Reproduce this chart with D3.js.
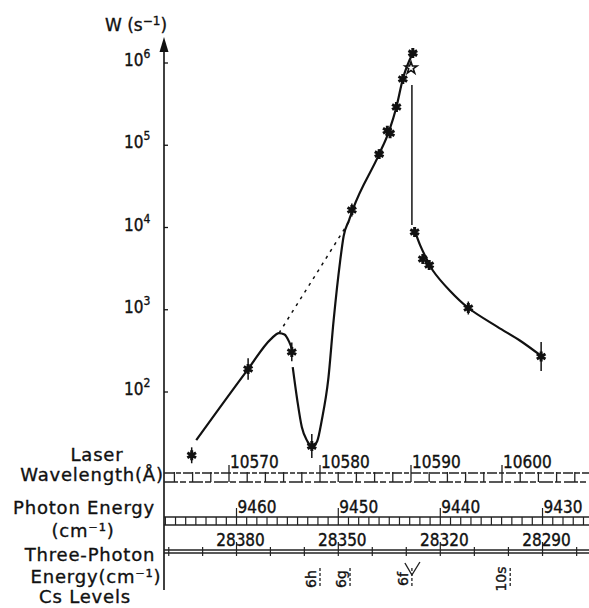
<!DOCTYPE html>
<html lang="en">
<head>
<meta charset="utf-8">
<title>W vs laser wavelength</title>
<script src="https://cdn.jsdelivr.net/npm/d3@7"></script>
<style>
  body { margin: 0; background: #fff; }
  svg { display: block; }
  text { fill: #111; stroke: #111; stroke-width: 0.35px; font-family: "DejaVu Sans", sans-serif; }
  .num { font-family: "DejaVu Sans Condensed", "DejaVu Sans", sans-serif; font-stretch: condensed; font-size: 17px; }
  .lab { font-size: 18px; letter-spacing: 0.8px; }
</style>
</head>
<body>
<script>
// measured rates: laser wavelength (Å), W (s^-1), error bar factor, open marker?
var pointWl   = [10565.9, 10572.1, 10576.9, 10579.1, 10583.5, 10586.5, 10587.4, 10587.7, 10588.4, 10589.1, 10590.0, 10590.2, 10590.4, 10591.3, 10592.0, 10596.3, 10604.3];
var pointW    = [17, 190, 307, 22, 16300, 78000, 150000, 140000, 292000, 638000, 870000, 1320000, 8800, 4140, 3500, 1050, 270];
var pointErr  = [1.25, 1.35, 1.3, 1.4, 1.2, 1.15, 1.12, 1.12, 1.12, 1.1, 1.1, 1.1, 1.15, 1.15, 1.15, 1.2, 1.5];
var pointOpen = [0, 0, 0, 0, 0, 0, 0, 0, 0, 0, 1, 0, 0, 0, 0, 0, 0];

// hand-drawn curves through the data
var curveAWl = [10566.4, 10572.1, 10574.6, 10575.5, 10576.1, 10576.6, 10576.9];
var curveAW  = [26, 190, 440, 521, 500, 410, 340];
var curveBWl = [10577.0, 10577.5, 10578.0, 10578.6, 10579.1, 10579.7, 10580.2, 10580.9, 10581.5, 10582.2, 10582.6, 10583.2, 10583.6, 10586.5, 10587.6, 10588.4, 10589.1, 10590.2];
var curveBW  = [201, 80, 37.5, 25.4, 21.4, 25.4, 45.7, 140, 750, 3800, 7890, 12300, 16500, 78000, 150000, 292000, 638000, 1320000];
var dropWl   = [10590.1, 10590.1];
var dropW    = [541000, 10700];
var curveDWl = [10590.5, 10591.0, 10591.6, 10592.4, 10594.3, 10596.3, 10599.5, 10602.0, 10604.2];
var curveDW  = [8600, 6100, 4400, 3000, 1690, 1050, 620, 420, 280];
var dashWl   = [10575.5, 10583.3];
var dashW    = [521, 12300];

// axes
var yDecades    = [2, 3, 4, 5, 6];
var wlMajor     = [10570, 10580, 10590, 10600];
var photonMajor = [9460, 9450, 9440, 9430];
var threeMajor  = [28380, 28350, 28320, 28290];
var csNames     = ["6h", "6g", "6f", "10s"];
var csWl        = [10580.0, 10583.3, 10590.1, 10600.9];

var width = 589, height = 608, axisX = 164, rightX = 589;

var svg = d3.select("body").append("svg").attr("width", width).attr("height", height);

var x = d3.scaleLinear().domain([10570, 10600]).range([229, 502]);
var y = d3.scaleLog().domain([100, 1e6]).range([392, 63]);
var xE = function (e) { return x(1e8 / e); };

function pairs(a, b) { return a.map(function (d, i) { return [d, b[i]]; }); }

var line = d3.line().x(function (d) { return x(d[0]); }).y(function (d) { return y(d[1]); }).curve(d3.curveMonotoneX);
var smooth = d3.line().x(function (d) { return x(d[0]); }).y(function (d) { return y(d[1]); }).curve(d3.curveCatmullRom.alpha(0.5));
var straight = d3.line().x(function (d) { return x(d[0]); }).y(function (d) { return y(d[1]); });

// y axis
svg.append("line").attr("x1", axisX).attr("x2", axisX).attr("y1", 48).attr("y2", 590)
  .attr("stroke", "#111").attr("stroke-width", 1.6);
svg.append("path").attr("d", "M" + axisX + ",37L" + (axisX - 4.5) + ",52L" + (axisX + 4.5) + ",52Z").attr("fill", "#111");

yDecades.forEach(function (e) {
  var yy = y(Math.pow(10, e));
  svg.append("line").attr("x1", axisX).attr("x2", axisX + 4).attr("y1", yy).attr("y2", yy)
    .attr("stroke", "#111").attr("stroke-width", 1.3);
  var t = svg.append("text").attr("class", "num").attr("x", 124).attr("y", yy + 3);
  t.append("tspan").text("10");
  t.append("tspan").attr("dy", -8).attr("font-size", 12).text(e);
});

var ttl = svg.append("text").attr("x", 105).attr("y", 31).attr("font-size", 17);
ttl.append("tspan").text("W (s");
ttl.append("tspan").attr("dy", -6).attr("font-size", 12).text("−1");
ttl.append("tspan").attr("dy", 6).text(")");

// curves
[pairs(curveAWl, curveAW), pairs(curveBWl, curveBW)].forEach(function (c) {
  svg.append("path").attr("d", line(c)).attr("fill", "none").attr("stroke", "#111").attr("stroke-width", 2.2);
});
svg.append("path").attr("d", smooth(pairs(curveDWl, curveDW))).attr("fill", "none").attr("stroke", "#111").attr("stroke-width", 2.2);
svg.append("path").attr("d", straight(pairs(dropWl, dropW))).attr("fill", "none").attr("stroke", "#222").attr("stroke-width", 1.6);
svg.append("path").attr("d", straight(pairs(dashWl, dashW))).attr("fill", "none").attr("stroke", "#111")
  .attr("stroke-width", 1.5).attr("stroke-dasharray", "3,5");

// points with error bars
var pts = pointWl.map(function (d, i) { return { wl: d, w: pointW[i], e: pointErr[i], open: pointOpen[i] }; });
svg.selectAll(".err").data(pts).enter().append("line")
  .attr("x1", function (d) { return x(d.wl); }).attr("x2", function (d) { return x(d.wl); })
  .attr("y1", function (d) { return y(d.w * d.e); }).attr("y2", function (d) { return y(d.w / d.e); })
  .attr("stroke", "#111").attr("stroke-width", 1.5);
var star = d3.symbol().type(d3.symbolAsterisk).size(70);
var openStar = d3.symbol().type(d3.symbolStar).size(45);
svg.selectAll(".pt").data(pts).enter().append("path")
  .attr("transform", function (d) { return "translate(" + x(d.wl) + "," + y(d.w) + ")"; })
  .attr("d", function (d) { return d.open ? openStar() : star(); })
  .attr("fill", function (d) { return d.open ? "#fff" : "#111"; })
  .attr("stroke", "#111").attr("stroke-width", function (d) { return d.open ? 1.6 : 3; });

// laser wavelength axis (double broken line)
var wlY1 = 473, wlY2 = 482;
svg.append("line").attr("x1", axisX).attr("x2", rightX).attr("y1", wlY1).attr("y2", wlY1)
  .attr("stroke", "#222").attr("stroke-width", 1.5).attr("stroke-dasharray", "10,2,5,2");
svg.append("line").attr("x1", axisX).attr("x2", rightX).attr("y1", wlY2).attr("y2", wlY2)
  .attr("stroke", "#222").attr("stroke-width", 1.5).attr("stroke-dasharray", "14,2,6,3");
d3.range(10564, 10610, 2).forEach(function (w) {
  var major = w % 10 === 0;
  svg.append("line").attr("x1", x(w)).attr("x2", x(w)).attr("y1", major ? 465 : wlY1 - 1).attr("y2", wlY2)
    .attr("stroke", "#222").attr("stroke-width", 1.3);
});
wlMajor.forEach(function (w) {
  svg.append("text").attr("class", "num").attr("x", x(w) + 1).attr("y", 468).text(w);
});

// photon energy axis (boxes)
var peY1 = 517, peY2 = 525;
[peY1, peY2].forEach(function (yy) {
  svg.append("line").attr("x1", axisX).attr("x2", rightX).attr("y1", yy).attr("y2", yy)
    .attr("stroke", "#222").attr("stroke-width", 1.5);
});
d3.range(9426, 9468, 1).forEach(function (e) {
  var major = e % 10 === 0;
  svg.append("line").attr("x1", xE(e)).attr("x2", xE(e)).attr("y1", major ? 508 : peY1).attr("y2", peY2)
    .attr("stroke", "#222").attr("stroke-width", 1.2);
});
photonMajor.forEach(function (e) {
  svg.append("text").attr("class", "num").attr("x", xE(e) + 1).attr("y", 513).text(e);
});

// three-photon energy axis
var tpY1 = 550, tpY2 = 553;
[tpY1, tpY2].forEach(function (yy) {
  svg.append("line").attr("x1", axisX).attr("x2", rightX).attr("y1", yy).attr("y2", yy)
    .attr("stroke", "#222").attr("stroke-width", 1.3);
});
d3.range(28280, 28410, 10).forEach(function (e) {
  var major = e % 30 === 0;
  svg.append("line").attr("x1", xE(e / 3)).attr("x2", xE(e / 3)).attr("y1", major ? 542 : 547).attr("y2", 556)
    .attr("stroke", "#222").attr("stroke-width", 1.2);
});
threeMajor.forEach(function (e) {
  svg.append("text").attr("class", "num").attr("x", xE(e / 3) + 4).attr("y", 546)
    .attr("text-anchor", "middle").text(e);
});

// Cs levels
csNames.forEach(function (n, i) {
  var cx = x(csWl[i]);
  svg.append("line").attr("x1", cx).attr("x2", cx).attr("y1", 568).attr("y2", 588)
    .attr("stroke", "#222").attr("stroke-width", 1.3).attr("stroke-dasharray", "3,2");
  svg.append("text").attr("font-size", 14).attr("text-anchor", "middle")
    .attr("transform", "translate(" + (cx - 4) + ",579) rotate(-90)").text(n);
  if (n === "6f") {
    svg.append("path").attr("d", "M" + (cx - 7) + ",563L" + cx + ",575L" + (cx + 8) + ",562")
      .attr("fill", "none").attr("stroke", "#222").attr("stroke-width", 1.4);
  }
});

// left-hand labels
var labels = [["Laser", 97, 461], ["Wavelength(Å)", 92, 481], ["Photon Energy", 84, 514],
  ["(cm⁻¹)", 83, 537], ["Three-Photon", 90, 561], ["Energy(cm⁻¹)", 96, 583], ["Cs Levels", 85, 603]];
labels.forEach(function (l) {
  svg.append("text").attr("class", "lab").attr("x", l[1]).attr("y", l[2]).attr("text-anchor", "middle").text(l[0]);
});
</script>
</body>
</html>
